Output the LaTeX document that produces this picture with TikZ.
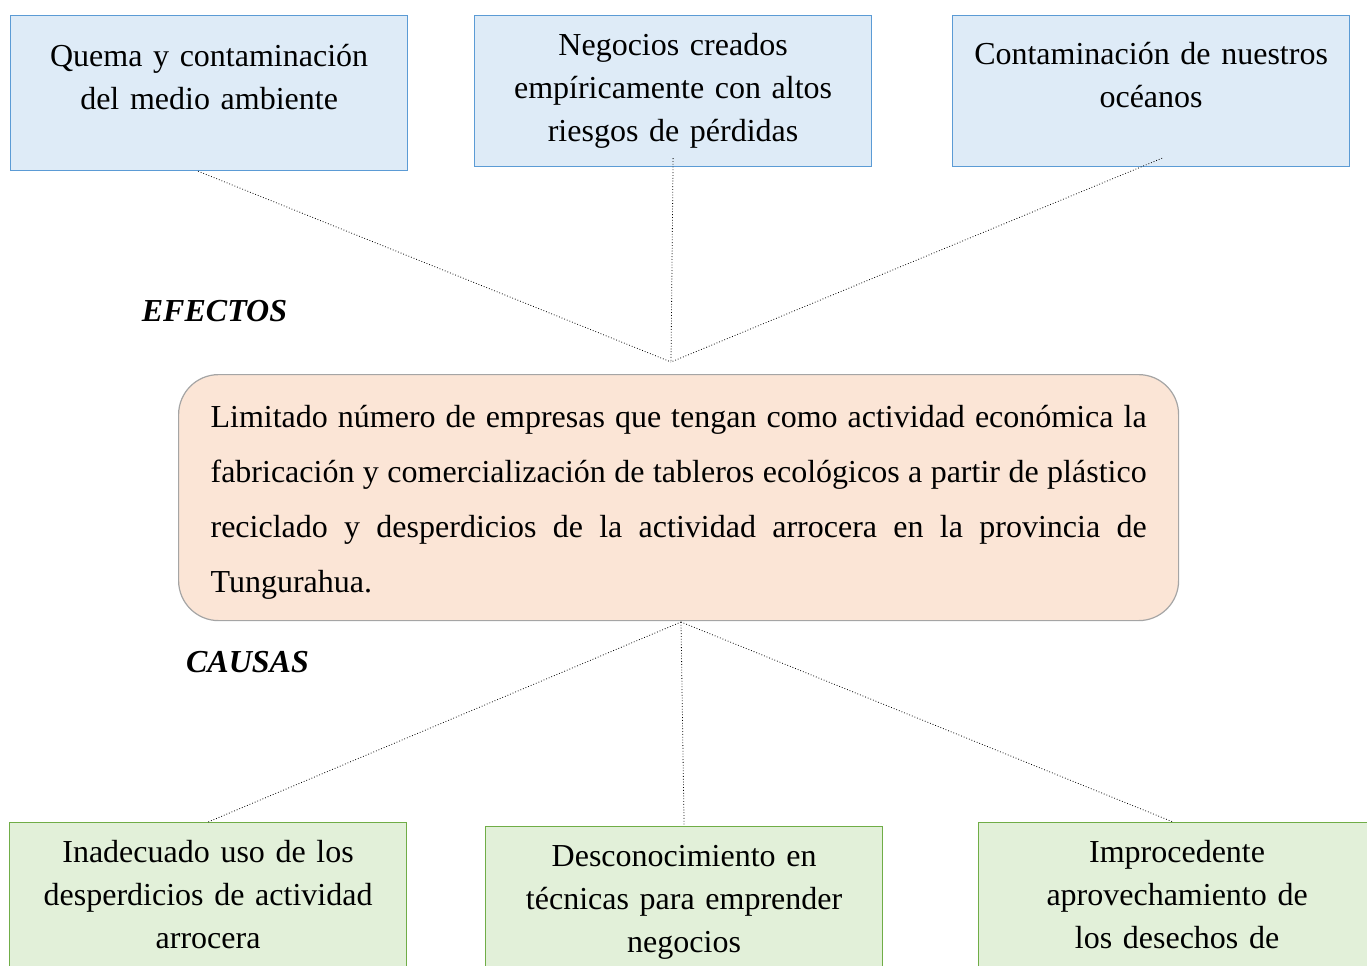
\documentclass[tikz,border=0pt]{standalone}
\usepackage{fontspec}
\setmainfont{Liberation Serif}
\usepackage{tikz}
\definecolor{efill}{HTML}{DEEBF7}
\definecolor{eline}{HTML}{5B9BD5}
\definecolor{pfill}{HTML}{FBE5D6}
\definecolor{pline}{HTML}{A5A5A5}
\definecolor{cfill}{HTML}{E2F0D9}
\definecolor{cline}{HTML}{70AD47}
\newcommand{\singuion}{\hyphenpenalty 10000 \exhyphenpenalty 10000 }

\begin{document}
\begin{tikzpicture}[x=0.5pt,y=-0.5pt,
  caja/.style={anchor=north west,inner sep=0pt,text width=198.5pt,align=center,
    line width=0.6pt,font=\fontsize{16}{21.5}\selectfont},
  efecto/.style={caja,draw=eline,fill=efill},
  causa/.style={caja,draw=cline,fill=cfill,text height=20pt,text depth=80pt},
  enlace/.style={densely dotted,line width=0.4pt},
  rotulo/.style={font=\fontsize{16}{19}\selectfont\bfseries\itshape}]
\useasboundingbox (0,0) rectangle (1367,965);

\node[efecto,text height=25.5pt,text depth=52pt] (e1) at (10,15) {Quema y contaminación\\del medio ambiente};
\node[efecto,text height=20pt,text depth=55.5pt] (e2) at (474,15) {Negocios creados\\empíricamente con altos\\riesgos de pérdidas};
\node[efecto,text height=24.5pt,text depth=51pt] (e3) at (952,15) {Contaminación de nuestros\\océanos};

\node[rotulo] (efectos) at (214.5,311) {EFECTOS};

\node[anchor=north west,draw=pline,fill=pfill,line width=0.6pt,rounded corners=20pt,
  inner xsep=16pt,inner ysep=0pt,text width=468pt,text height=26.5pt,text depth=96.5pt,
  align=justify,font=\fontsize{16}{27.5}\selectfont\singuion] (prob) at (178,374)
  {Limitado número de empresas que tengan como actividad económica la fabricación y comercialización de tableros ecológicos a partir de plástico reciclado y desperdicios de la actividad arrocera en la provincia de Tungurahua.};

\node[rotulo] (causas) at (247.5,662) {CAUSAS};

\node[causa] (c1) at (9,822) {Inadecuado uso de los\\desperdicios de actividad\\arrocera};
\node[causa] (c2) at (485,826) {Desconocimiento en\\técnicas para emprender\\negocios};
\node[causa] (c3) at (978,822) {Improcedente\\aprovechamiento de\\los desechos de};

\coordinate (efx) at (671,362);
\coordinate (cax) at (681,622);

\draw[enlace] ([xshift=-5.5pt]e1.south) -- (efx);
\draw[enlace] ([yshift=4.5pt]e2.south) -- (efx);
\draw[enlace] ([xshift=5.5pt,yshift=4.5pt]e3.south) -- (efx);

\draw[enlace] (cax) -- (c1.north);
\draw[enlace] (cax) -- (c2.north);
\draw[enlace] (cax) -- ([xshift=-2pt]c3.north);
\end{tikzpicture}
\end{document}
